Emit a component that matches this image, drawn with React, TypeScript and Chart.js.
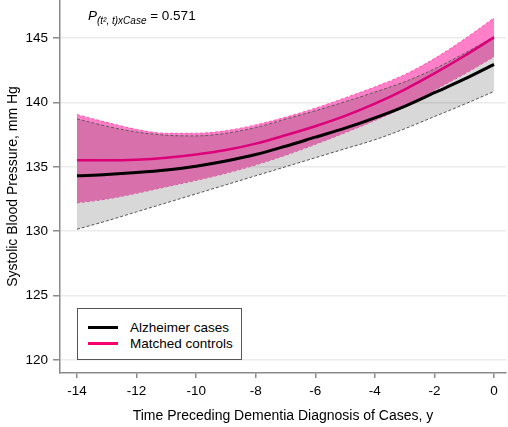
import React, { useEffect, useRef } from "react";
import { Chart, registerables } from "chart.js";
Chart.register(...registerables);

const years = [-14, -13, -12, -11, -10, -9, -8, -7, -6, -5, -4, -3, -2, -1, 0];
const caseMean = [134.3, 134.4, 134.55, 134.75, 135.05, 135.45, 135.95, 136.6, 137.3, 138.0, 138.8, 139.7, 140.75, 141.8, 142.95];
const caseUpper = [138.72, 138.15, 137.7, 137.45, 137.4, 137.6, 138.05, 138.7, 139.35, 140.05, 140.8, 141.6, 142.6, 143.8, 145.1];
const caseLower = [130.15, 130.8, 131.5, 132.2, 132.9, 133.6, 134.3, 135.0, 135.7, 136.4, 137.1, 137.95, 138.9, 139.85, 140.85];
const controlMean = [135.5, 135.5, 135.55, 135.7, 135.95, 136.3, 136.8, 137.45, 138.15, 138.95, 139.9, 141.0, 142.25, 143.6, 145.05];
const controlUpper = [139.05, 138.45, 137.9, 137.6, 137.6, 137.8, 138.25, 138.85, 139.55, 140.35, 141.2, 142.15, 143.4, 144.9, 146.55];
const controlLower = [132.2, 132.5, 132.95, 133.45, 133.95, 134.5, 135.15, 135.9, 136.75, 137.65, 138.6, 139.65, 140.95, 142.2, 143.55];
const xTicks = [-14, -12, -10, -8, -6, -4, -2, 0];
const yTicks = [120, 125, 130, 135, 140, 145];
const seriesNames = ["Alzheimer cases", "Matched controls"];

const FONT = "'Liberation Sans', Arial, sans-serif";
const toPts = (vals: number[]) => years.map((x, i) => ({ x, y: vals[i] }));

export default function App() {
  const ref = useRef<HTMLCanvasElement | null>(null);
  useEffect(() => {
    if (!ref.current) return;
    const axisColor = "#8a8a8a";
    const chart = new Chart(ref.current, {
      type: "line",
      data: {
        datasets: [
          { label: seriesNames[0], data: toPts(caseMean), borderColor: "#000000", borderWidth: 3, pointRadius: 0, fill: false, order: 0, cubicInterpolationMode: "monotone" },
          { label: seriesNames[1], data: toPts(controlMean), borderColor: "#dc0078", borderWidth: 2.5, pointRadius: 0, fill: false, order: 0, cubicInterpolationMode: "monotone" },
          { label: "case upper", data: toPts(caseUpper), borderColor: "#5a5a5a", borderWidth: 1, borderDash: [3, 2], pointRadius: 0, fill: "+1", backgroundColor: "rgba(40,40,40,0.18)", order: 1, cubicInterpolationMode: "monotone" },
          { label: "case lower", data: toPts(caseLower), borderColor: "#5a5a5a", borderWidth: 1, borderDash: [3, 2], pointRadius: 0, fill: false, order: 1, cubicInterpolationMode: "monotone" },
          { label: "control upper", data: toPts(controlUpper), borderColor: "#ff4fb0", borderWidth: 1, borderDash: [3, 2], pointRadius: 0, fill: "+1", backgroundColor: "#ff80c8", order: 2, cubicInterpolationMode: "monotone" },
          { label: "control lower", data: toPts(controlLower), borderColor: "#ff4fb0", borderWidth: 1, borderDash: [3, 2], pointRadius: 0, fill: false, order: 2, cubicInterpolationMode: "monotone" },
        ],
      },
      options: {
        animation: false,
        responsive: false,
        devicePixelRatio: 1,
        layout: { padding: { top: 0, right: 2, bottom: 0, left: 0 } },
        plugins: { legend: { display: false }, tooltip: { enabled: false } },
        scales: {
          x: {
            type: "linear",
            min: -14.571,
            max: 0.403,
            afterBuildTicks: (s: any) => { s.ticks = xTicks.map((v) => ({ value: v })); },
            afterFit: (s: any) => { s.height = 54; s.paddingLeft = 0; s.paddingRight = 0; },
            grid: { display: true, drawOnChartArea: false, drawTicks: true, tickLength: 5, color: axisColor, tickColor: axisColor, lineWidth: 1.5 },
            border: { display: true, color: axisColor, width: 1.5 },
            ticks: { color: "#000", font: { family: FONT, size: 13.5 }, padding: 5, maxRotation: 0, autoSkip: false },
            title: { display: true, text: "Time Preceding Dementia Diagnosis of Cases, y", color: "#000", font: { family: FONT, size: 14 }, padding: { top: 2, bottom: 2 } },
          },
          y: {
            type: "linear",
            min: 118.99,
            max: 147.95,
            afterBuildTicks: (s: any) => { s.ticks = yTicks.map((v) => ({ value: v })); },
            afterFit: (s: any) => { s.width = 60; s.paddingTop = 0; s.paddingBottom = 0; },
            grid: { display: true, drawOnChartArea: true, drawTicks: true, tickLength: 7, color: "#ebebeb", tickColor: axisColor, lineWidth: 1.5 },
            border: { display: true, color: axisColor, width: 1.5 },
            ticks: { color: "#000", font: { family: FONT, size: 13.5 }, padding: 5, autoSkip: false },
            title: { display: true, text: "Systolic Blood Pressure, mm Hg", color: "#000", font: { family: FONT, size: 14 }, padding: { top: 5, bottom: 2 } },
          },
        },
      },
    } as any);
    return () => chart.destroy();
  }, []);

  return (
    <div style={{ position: "absolute", left: 0, top: 0, width: 508, height: 427, background: "#fff", fontFamily: FONT }}>
      <canvas ref={ref} width={508} height={427} style={{ display: "block", width: 508, height: 427 }} />
      <div style={{ position: "absolute", left: 88, top: 8, fontSize: 13.5, color: "#000", whiteSpace: "nowrap", lineHeight: "16px" }}>
        <i>P</i>
        <sub style={{ fontSize: 10, fontStyle: "italic" }}>(t², t)xCase</sub>
        <span> = 0.571</span>
      </div>
      <div style={{ position: "absolute", left: 77, top: 308, width: 163, height: 50, border: "1px solid #555", background: "#fff" }}>
        {seriesNames.map((n, i) => (
          <div key={n} style={{ position: "absolute", left: 10, top: 10 + i * 16.5, height: 16, display: "flex", alignItems: "center", whiteSpace: "nowrap" }}>
            <div style={{ width: 30, height: 3, background: i === 0 ? "#000" : "#f5006e", marginRight: 12 }} />
            <span style={{ fontSize: 13.5, color: "#000" }}>{n}</span>
          </div>
        ))}
      </div>
    </div>
  );
}
